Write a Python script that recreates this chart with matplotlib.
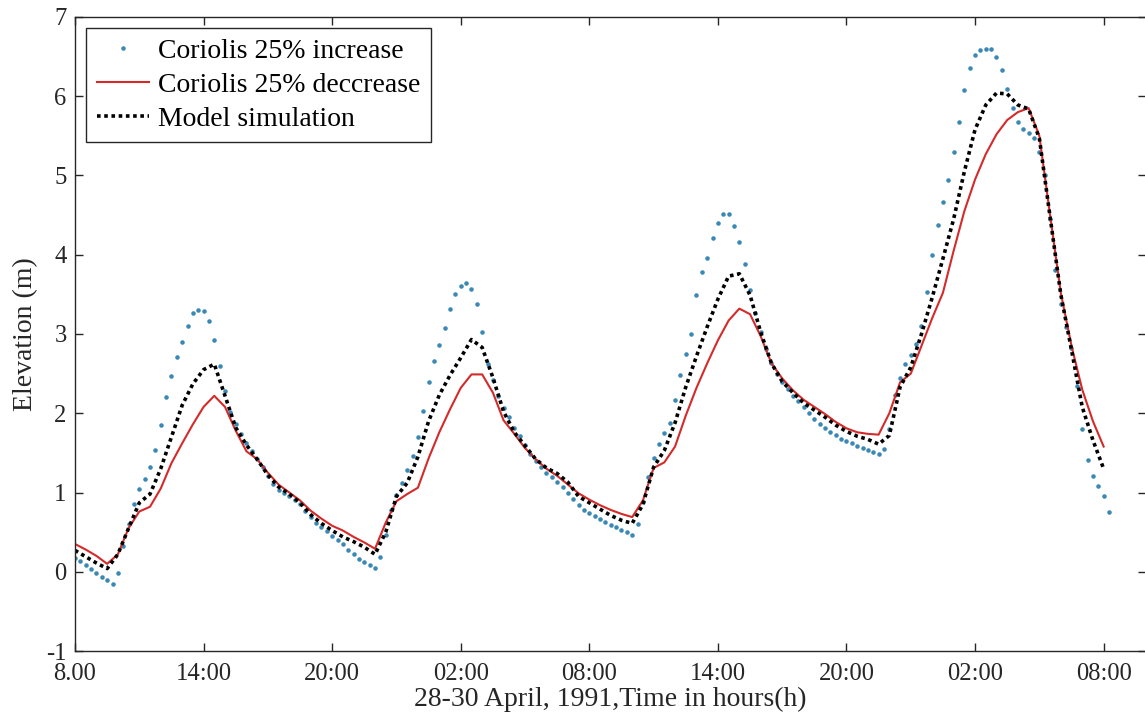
import numpy as np
import matplotlib
matplotlib.use("Agg")
import matplotlib.pyplot as plt

# ---- data (hours since 08:00, 28 April 1991) ----
t_blue = np.arange(0.0, 48.26, 0.25)
blue_increase = [
    0.17, 0.13, 0.08, 0.03, -0.02, -0.07, -0.11, -0.15,
    -0.02, 0.32, 0.60, 0.85, 1.05, 1.17, 1.32, 1.53,
    1.85, 2.20, 2.47, 2.71, 2.90, 3.10, 3.26, 3.30,
    3.29, 3.17, 2.93, 2.60, 2.28, 2.02, 1.86, 1.74,
    1.63, 1.52, 1.42, 1.32, 1.21, 1.11, 1.03, 1.00,
    0.95, 0.91, 0.86, 0.77, 0.69, 0.62, 0.57, 0.51,
    0.45, 0.40, 0.35, 0.28, 0.22, 0.16, 0.12, 0.08,
    0.05, 0.18, 0.47, 0.78, 0.97, 1.12, 1.29, 1.46,
    1.70, 2.03, 2.39, 2.66, 2.86, 3.08, 3.32, 3.50,
    3.60, 3.64, 3.57, 3.38, 3.02, 2.62, 2.42, 2.22,
    2.06, 1.95, 1.82, 1.71, 1.60, 1.49, 1.40, 1.32,
    1.25, 1.19, 1.13, 1.07, 0.99, 0.92, 0.84, 0.78,
    0.74, 0.70, 0.67, 0.63, 0.59, 0.56, 0.53, 0.50,
    0.47, 0.60, 0.88, 1.20, 1.44, 1.61, 1.75, 1.88,
    2.17, 2.48, 2.75, 3.00, 3.49, 3.78, 3.96, 4.21,
    4.40, 4.52, 4.51, 4.36, 4.16, 3.88, 3.55, 3.27,
    3.02, 2.81, 2.63, 2.50, 2.39, 2.31, 2.22, 2.15,
    2.08, 2.00, 1.93, 1.87, 1.81, 1.76, 1.72, 1.68,
    1.65, 1.62, 1.59, 1.56, 1.53, 1.51, 1.48, 1.55,
    1.80, 2.23, 2.45, 2.62, 2.74, 2.88, 3.10, 3.53,
    4.00, 4.37, 4.67, 4.94, 5.30, 5.68, 6.08, 6.36,
    6.52, 6.58, 6.60, 6.59, 6.50, 6.33, 6.09, 5.85,
    5.68, 5.59, 5.53, 5.47, 5.30, 5.00, 4.45, 3.81,
    3.38, 3.09, 2.82, 2.34, 1.80, 1.41, 1.21, 1.08,
    0.95, 0.76,
]

t_line = np.arange(0.0, 48.01, 0.5)
red_decrease = [
    0.35, 0.28, 0.20, 0.10, 0.22, 0.55, 0.76, 0.82, 1.05, 1.37,
    1.62, 1.86, 2.08, 2.22, 2.08, 1.78, 1.52, 1.42, 1.25, 1.10,
    1.00, 0.90, 0.77, 0.67, 0.58, 0.52, 0.44, 0.37, 0.29, 0.62,
    0.89, 0.98, 1.06, 1.43, 1.76, 2.05, 2.32, 2.49, 2.49, 2.26,
    1.91, 1.74, 1.56, 1.42, 1.30, 1.21, 1.10, 0.99, 0.91, 0.84,
    0.78, 0.73, 0.69, 0.90, 1.31, 1.38, 1.58, 1.97, 2.32, 2.63,
    2.92, 3.17, 3.32, 3.25, 2.97, 2.63, 2.44, 2.29, 2.17, 2.08,
    1.99, 1.89, 1.81, 1.76, 1.74, 1.73, 2.00, 2.39, 2.50, 2.85,
    3.20, 3.52, 4.05, 4.55, 4.95, 5.27, 5.52, 5.70, 5.80, 5.85,
    5.50, 4.50, 3.52, 2.85, 2.30, 1.90, 1.58,
]
black_model = [
    0.27, 0.19, 0.11, 0.04, 0.22, 0.55, 0.87, 0.98, 1.30, 1.70,
    2.10, 2.37, 2.55, 2.62, 2.22, 1.82, 1.60, 1.42, 1.22, 1.07,
    0.98, 0.87, 0.72, 0.61, 0.52, 0.44, 0.38, 0.31, 0.22, 0.50,
    0.95, 1.12, 1.45, 1.90, 2.23, 2.48, 2.70, 2.93, 2.83, 2.45,
    2.02, 1.76, 1.59, 1.42, 1.31, 1.24, 1.13, 0.95, 0.87, 0.79,
    0.71, 0.65, 0.61, 0.85, 1.32, 1.53, 1.88, 2.33, 2.72, 3.09,
    3.44, 3.73, 3.76, 3.49, 3.02, 2.63, 2.40, 2.26, 2.13, 2.04,
    1.95, 1.85, 1.77, 1.71, 1.67, 1.61, 1.72, 2.33, 2.58, 3.00,
    3.46, 3.95, 4.45, 5.05, 5.58, 5.89, 6.04, 6.03, 5.89, 5.84,
    5.47, 4.48, 3.50, 2.80, 2.08, 1.66, 1.30,
]

xtick_pos = [0, 6, 12, 18, 24, 30, 36, 42, 48]
xtick_labels = ["8.00", "14:00", "20:00", "02:00", "08:00",
                "14:00", "20:00", "02:00", "08:00"]
ytick_pos = [-1, 0, 1, 2, 3, 4, 5, 6, 7]

labels = ["Coriolis 25% increase", "Coriolis 25% deccrease", "Model simulation"]

assert len(t_blue) == len(blue_increase)
assert len(t_line) == len(red_decrease) == len(black_model)

# ---- figure ----
plt.rcParams["font.family"] = ["Liberation Serif", "DejaVu Serif"]

fig = plt.figure(figsize=(11.45, 7.25), dpi=100)
W, H = 1145.0, 725.0
ax = fig.add_axes([75 / W, (H - 651) / H, 1071.5 / W, 634 / H])

ax.plot(t_blue, blue_increase, linestyle="none", marker=".",
        markersize=4.5, color="#3a88b4", label=labels[0])
ax.plot(t_line, red_decrease, "-", color="#d42a2a", linewidth=1.5,
        label=labels[1])
ax.plot(t_line, black_model, linestyle=(0, (1, 1)), color="black",
        linewidth=2.6, label=labels[2])

ax.set_xlim(0, 50)
ax.set_ylim(-1, 7)
ax.set_xticks(xtick_pos)
ax.set_xticklabels(xtick_labels)
ax.set_yticks(ytick_pos)
ax.set_yticklabels([str(v) for v in ytick_pos])

ax.tick_params(direction="in", length=6, width=1.0, top=True, right=True,
               labelsize=17.7, colors="#262626")
ax.tick_params(axis="x", pad=9)
ax.tick_params(axis="y", pad=6)
for s in ax.spines.values():
    s.set_linewidth(1.0)
    s.set_color("#262626")

ax.set_xlabel("28-30 April, 1991,Time in hours(h)", fontsize=20,
              color="#262626", labelpad=1)
ax.set_ylabel("Elevation (m)", fontsize=20, color="#262626", labelpad=6)

leg = ax.legend(loc="upper left", bbox_to_anchor=(11 / 1071.5, 1 - 11 / 634),
                fontsize=20, frameon=True, fancybox=False, framealpha=1,
                edgecolor="#262626", numpoints=1, handlelength=1.9,
                handletextpad=0.3, borderpad=0.38, labelspacing=0.3,
                borderaxespad=0, markerscale=1.0)
leg.get_frame().set_linewidth(1.0)

fig.savefig("out.png", dpi=100)
